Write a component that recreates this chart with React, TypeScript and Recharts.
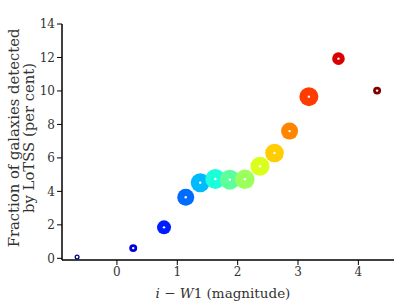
import { ScatterChart, Scatter, XAxis, YAxis, ZAxis } from "recharts"

// i - W1 colour bins and detected fraction (per cent)
const colourBins = [-0.66, 0.27, 0.78, 1.14, 1.38, 1.63, 1.87, 2.12, 2.37, 2.61, 2.86, 3.18, 3.67, 4.31]
const detectedFraction = [0.08, 0.61, 1.85, 3.65, 4.52, 4.74, 4.7, 4.72, 5.5, 6.29, 7.6, 9.66, 11.93, 10.02]
// relative number of sources in each bin (marker area)
const binWeight = [20, 50, 154, 227, 283, 314, 314, 296, 283, 272, 227, 283, 125, 50]
const jetColours = [
  "#000080", "#0000d9", "#001dff", "#006cff", "#00baff", "#1cffda", "#5cff9c",
  "#9bff5c", "#daff1c", "#ffcd00", "#ff8500", "#ff3c00", "#d90000", "#800000",
]
const xTicks = [0, 1, 2, 3, 4]
const yTicks = [0, 2, 4, 6, 8, 10, 12, 14]

const data = colourBins.map((x, i) => ({
  x,
  y: detectedFraction[i],
  z: binWeight[i],
  colour: jetColours[i],
}))

const font = "'DejaVu Serif', serif"
const tickStyle = { fontSize: 12, fill: "#333", fontFamily: font }

const Dot = (props: any) => {
  const { cx, cy, width, payload } = props
  return (
    <g>
      <circle cx={cx} cy={cy} r={width / 2} fill={payload.colour} />
      <circle cx={cx} cy={cy} r={1.2} fill="#fff" />
    </g>
  )
}

const YLabel = () => (
  <text transform="translate(0,138) rotate(-90)" textAnchor="middle" fontFamily={font} fontSize={14.8} fill="#333">
    <tspan x={0} y={19}>Fraction of galaxies detected</tspan>
    <tspan x={0} y={34}>by LoTSS (per cent)</tspan>
  </text>
)

const XLabel = () => (
  <text x={223} y={298} textAnchor="middle" fontFamily={font} fontSize={13.5} fill="#333">
    <tspan fontStyle="italic">i</tspan>
    <tspan> − </tspan>
    <tspan fontStyle="italic">W</tspan>
    <tspan>1 (magnitude)</tspan>
  </text>
)

export default function App() {
  return (
    <div style={{ position: "absolute", left: 0, top: 0, width: 415, height: 307, background: "#fff" }}>
      <ScatterChart width={415} height={307} margin={{ top: 24, right: 21, bottom: 0, left: 0 }}>
        <XAxis
          type="number"
          dataKey="x"
          domain={[-0.91, 4.59]}
          ticks={xTicks}
          allowDataOverflow
          height={47}
          tickSize={5}
          tick={tickStyle}
          axisLine={{ stroke: "#000", strokeWidth: 1.5 }}
          tickLine={{ stroke: "#000", strokeWidth: 1 }}
        />
        <XAxis
          xAxisId="top"
          orientation="top"
          type="number"
          domain={[-0.91, 4.59]}
          height={0}
          tick={false}
          tickLine={false}
          axisLine={{ stroke: "#000", strokeWidth: 1.5 }}
        />
        <YAxis
          type="number"
          dataKey="y"
          domain={[-0.1, 14]}
          ticks={yTicks}
          allowDataOverflow
          width={62}
          tickSize={5}
          tick={tickStyle}
          axisLine={{ stroke: "#000", strokeWidth: 1.5 }}
          tickLine={{ stroke: "#000", strokeWidth: 1 }}
        />
        <YAxis
          yAxisId="right"
          orientation="right"
          type="number"
          domain={[-0.1, 14]}
          width={0}
          tick={false}
          tickLine={false}
          axisLine={{ stroke: "#000", strokeWidth: 1.5 }}
        />
        <ZAxis type="number" dataKey="z" domain={[0, 320]} range={[0, 320]} />
        <Scatter data={data} shape={<Dot />} isAnimationActive={false} />
      </ScatterChart>
      <svg width={415} height={307} style={{ position: "absolute", left: 0, top: 0, pointerEvents: "none" }}>
        <YLabel />
        <XLabel />
      </svg>
    </div>
  )
}
